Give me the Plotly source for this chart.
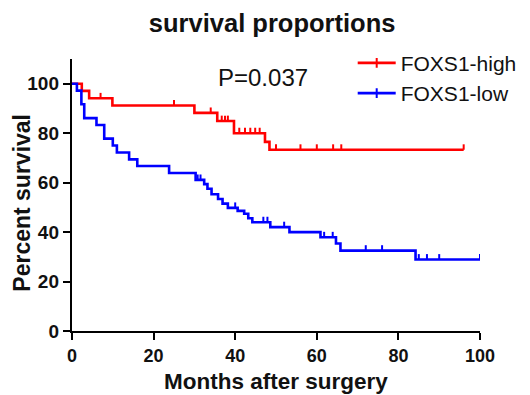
import plotly.graph_objects as go

# ---- data ----
series_names = ["FOXS1-high", "FOXS1-low"]

high_event_t = [2.4, 4.2, 9.9, 30.0, 35.6, 39.7, 47.3, 48.4]
high_event_s = [97.1, 94.1, 91.2, 88.2, 84.9, 80.0, 76.5, 73.3]
high_censor_t = [7.0, 25.0, 34.0, 36.7, 37.5, 38.2, 41.0, 42.4, 43.7, 44.9, 46.0,
                 50.0, 56.0, 60.0, 64.0, 66.0, 96.0]

low_event_t = [1.2, 2.3, 3.0, 6.0, 7.9, 10.0, 11.0, 14.0, 16.0, 23.8, 30.3, 32.4,
               33.2, 34.2, 35.8, 36.9, 38.2, 40.6, 42.2, 43.2, 44.2, 48.6, 53.3,
               60.9, 64.7, 65.8, 84.2]
low_event_s = [97.2, 91.7, 86.1, 83.3, 77.8, 75.0, 72.2, 69.4, 66.7, 63.9, 61.1, 59.4,
               57.5, 55.3, 53.4, 51.5, 49.8, 48.6, 47.4, 45.6, 44.0, 42.0, 40.0,
               37.9, 35.4, 32.5, 28.9]
low_censor_t = [30.8, 31.5, 40.0, 46.9, 47.9, 52.0, 61.8, 63.9, 72.0, 76.0,
                85.0, 87.0, 90.0, 100.0]

x_ticks = [0, 20, 40, 60, 80, 100]
y_ticks = [0, 20, 40, 60, 80, 100]
p_text = "P=0.037"
title_text = "survival proportions"
x_title = "Months after surgery"
y_title = "Percent survival"

colors = ["#FF0000", "#0000FF"]
FONT = "Liberation Sans, Arial, sans-serif"


def surv_at(t, ev_t, ev_s):
    s = 100.0
    for et, es in zip(ev_t, ev_s):
        if et <= t:
            s = es
    return s


fig = go.Figure()
groups = [(high_event_t, high_event_s, high_censor_t),
          (low_event_t, low_event_s, low_censor_t)]
for i, (et, es, ct) in enumerate(groups):
    end_t = max(ct + et)
    xs = [0.0] + list(et) + [end_t]
    ys = [100.0] + list(es) + [es[-1]]
    fig.add_trace(go.Scatter(
        x=xs, y=ys, mode="lines", line=dict(color=colors[i], width=2.6, shape="hv"),
        name=series_names[i], showlegend=False, hoverinfo="skip"))
    cy = [surv_at(t, et, es) for t in ct]
    fig.add_trace(go.Scatter(
        x=ct, y=cy, mode="markers", marker=dict(size=1, color=colors[i], opacity=0),
        error_y=dict(type="data", symmetric=False, array=[2.2] * len(ct),
                     arrayminus=[0] * len(ct), width=0, thickness=2, color=colors[i]),
        showlegend=False, hoverinfo="skip"))
    # legend entry
    fig.add_trace(go.Scatter(
        x=[None], y=[None], mode="lines+markers",
        line=dict(color=colors[i], width=2.6),
        marker=dict(symbol="line-ns", size=7, line=dict(color=colors[i], width=2)),
        name=series_names[i], showlegend=True))

fig.add_annotation(text=p_text, xref="paper", yref="paper", x=0.467, y=0.933,
                   showarrow=False, font=dict(family=FONT, size=24, color="#111"),
                   xanchor="center", yanchor="middle")
fig.add_annotation(text="<b>" + x_title + "</b>", xref="paper", yref="paper",
                   x=0.501, y=-0.185, showarrow=False,
                   font=dict(family=FONT, size=22.5, color="#111"),
                   xanchor="center", yanchor="middle")
fig.add_annotation(text="<b>" + y_title + "</b>", xref="paper", yref="paper",
                   x=-0.123, y=0.471, showarrow=False, textangle=-90,
                   font=dict(family=FONT, size=23, color="#111"),
                   xanchor="center", yanchor="middle")

fig.update_layout(
    width=522, height=387,
    margin=dict(l=64, r=50, t=51, b=64, autoexpand=False),
    paper_bgcolor="white", plot_bgcolor="white",
    title=dict(text="<b>" + title_text + "</b>", x=0.506, xanchor="center",
               y=0.961, yanchor="middle",
               font=dict(family=FONT, size=25.5, color="#111")),
    legend=dict(x=0.688, y=1.060, xanchor="left", yanchor="top",
                font=dict(family=FONT, size=21, color="#111"),
                bgcolor="rgba(0,0,0,0)", tracegroupgap=0, itemwidth=38),
    font=dict(family=FONT, color="#111"),
)
fig.update_xaxes(range=[0, 100], tickvals=x_ticks, ticktext=[str(v) for v in x_ticks],
                 showline=True, linecolor="black", linewidth=2.4,
                 ticks="outside", ticklen=7, tickwidth=2.2, tickcolor="black",
                 showgrid=False, zeroline=False,
                 tickfont=dict(family=FONT, size=18, color="#111", weight="bold"))
fig.update_yaxes(range=[0, 110], tickvals=y_ticks, ticktext=[str(v) for v in y_ticks],
                 showline=True, linecolor="black", linewidth=2.4,
                 ticks="outside", ticklen=7, tickwidth=2.2, tickcolor="black",
                 showgrid=False, zeroline=False,
                 tickfont=dict(family=FONT, size=19, color="#111", weight="bold"))

fig.write_html("out.html")
